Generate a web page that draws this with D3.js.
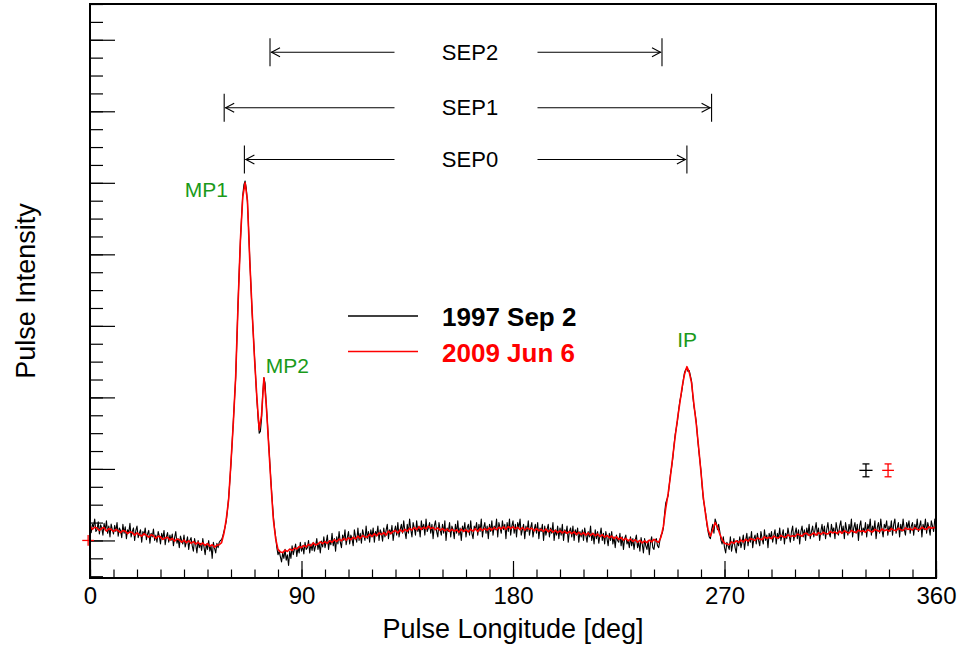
<!DOCTYPE html>
<html>
<head>
<meta charset="utf-8">
<script src="https://cdn.jsdelivr.net/npm/d3@7"></script>
<style>
  html, body { margin: 0; padding: 0; background: #fff; }
  svg { display: block; font-family: "Liberation Sans", Arial, Helvetica, sans-serif; }
</style>
</head>
<body>
<div id="chart"></div>
<script>
// Pulse profiles, intensity in units of 1/1000 of the MP1 peak
// 1997 profile: one bin per 0.5 deg, 2009 profile: one bin per 1 deg (0..360)
const step1997 = 0.5;
const step2009 = 1;

const profile1997 = [
    50,22,45,38,60,25,30,52,18,44,
    35,15,48,28,55,20,40,10,46,30,
    18,42,25,50,12,35,28,8,45,20,
    38,5,30,22,48,10,25,35,0,28,
    40,8,20,30,-5,25,15,35,2,18,
    28,-8,20,10,32,0,15,-5,25,12,
    -10,20,5,28,-12,10,22,-5,15,0,
    18,-15,8,25,-8,5,-20,12,0,-10,
    15,-18,-5,10,-25,0,8,-15,-30,5,
    -12,-35,0,-20,-8,-28,5,-18,-40,-10,
    -25,0,-30,-15,-50,-5,-22,-35,-8,-20,
    -5,0,2,12,25,38,55,85,120,165,
    215,275,335,395,455,560,665,755,835,905,
    965,995,1005,985,945,870,785,710,635,575,
    515,455,395,345,300,305,340,410,455,440,
    380,330,275,220,165,115,70,35,10,-20,
    -40,-30,-45,-60,-35,-50,-25,-55,-40,-70,
    -30,-50,-15,-40,-25,-10,-45,-20,-35,-5,
    -30,-15,-38,-5,-25,-20,0,-35,-10,-28,
    -5,-30,-15,5,-25,-8,-35,-2,-18,10,
    -20,-5,15,-25,0,-12,20,-15,5,-30,
    10,-10,25,-5,-20,15,0,30,-12,8,
    25,-10,15,5,-15,30,10,-5,35,0,
    20,-8,30,15,0,40,5,25,-5,30,
    10,35,-5,25,15,40,0,30,20,-2,
    35,10,28,45,5,30,18,42,0,25,
    40,15,50,10,30,45,20,55,25,5,
    45,20,60,30,10,50,35,15,55,25,
    40,10,55,30,45,15,60,25,35,50,
    20,45,5,40,55,25,10,50,30,15,
    45,20,55,0,35,25,50,10,40,30,
    5,45,20,55,15,35,0,40,25,50,
    10,35,45,15,55,20,5,40,30,50,
    15,45,25,60,10,35,50,20,40,5,
    45,25,55,15,40,30,60,10,50,35,
    20,55,30,45,5,50,25,60,15,40,
    55,20,45,10,50,35,60,15,30,45,
    5,40,25,55,15,35,50,10,30,45,
    20,50,5,35,25,45,0,40,15,30,
    45,10,35,20,50,0,30,15,40,5,
    35,15,45,0,30,20,40,-5,25,35,
    10,40,0,30,15,35,-5,25,10,30,
    0,35,15,-5,25,10,40,0,20,-10,
    30,5,25,-8,15,35,0,20,-10,25,
    5,-15,20,0,25,-10,10,-20,15,0,
    -5,20,-15,10,-25,5,15,-10,0,-20,
    10,-15,5,-25,0,15,-20,-5,-30,8,
    -10,-35,5,-15,-25,0,-40,-5,10,-20,
    -25,0,5,-15,-20,0,15,20,35,75,
    105,115,125,155,185,205,230,265,295,315,
    335,365,390,405,425,450,470,478,482,472,
    475,460,445,405,375,355,330,290,255,225,
    195,150,115,95,75,45,25,10,5,30,
    45,20,60,50,30,45,25,0,-10,10,
    -20,-35,-5,-15,-25,10,-30,-10,5,-20,
    -35,0,-15,10,-20,-5,15,-25,0,20,
    -15,10,-5,25,-20,5,15,-10,20,0,
    -15,25,5,-10,30,0,15,-20,20,5,
    25,-5,15,30,-10,20,5,35,0,15,
    30,-10,20,5,35,15,-5,25,40,0,
    20,35,5,30,-10,25,40,10,30,0,
    35,15,45,5,25,40,10,30,50,15,
    35,0,25,45,15,40,5,30,50,20,
    10,45,25,35,5,50,30,15,40,55,
    20,40,5,50,30,15,45,25,60,10,
    35,50,20,45,0,40,55,15,35,25,
    50,10,45,30,60,15,40,25,55,5,
    35,50,20,60,30,10,45,35,55,15,
    40,25,55,15,45,60,20,35,50,10,
    45,25,60,30,15,50,35,55,20,40,
    50,15,45,30,60,25,40,55,10,45,
    30,60,20,50,35,15,55,40,25,60,
    40
];

const profile2009 = [
    40,31,37,35,28,34,36,26,33,31,
    25,31,27,22,28,26,19,24,22,15,
    21,16,12,19,14,9,16,13,6,12,
    10,3,7,9,1,6,-2,4,2,-5,
    1,-6,-1,-8,-3,-10,-5,-12,-7,-14,
    -9,-16,-12,-19,-13,
    -12,-6,20,60,115,220,330,460,660,840,960,1000,950,780,640,510,400,310,350,455,380,270,160,60,5,-25,-32,
    -34,-27,-31,-24,-28,-21,-24,-17,
    -20,-14,-18,-11,-15,-7,-13,-10,-4,-9,
    -3,-8,-1,-5,2,-3,4,-1,6,1,
    7,2,9,4,12,6,14,9,10,17,
    11,19,13,21,16,22,15,26,19,25,
    28,21,30,24,31,26,34,29,36,30,
    38,31,37,32,40,33,36,30,35,28,
    33,27,32,25,31,26,30,23,31,25,
    30,24,31,26,33,25,34,28,33,29,
    35,29,36,30,37,32,38,31,39,33,
    38,32,37,30,36,29,35,31,34,27,
    33,27,31,25,32,24,30,23,28,22,
    27,21,26,20,25,19,24,17,23,16,
    22,15,21,14,20,13,18,11,16,9,
    14,8,12,5,10,3,8,1,6,-1,
    4,-3,2,-5,0,-7,-1,-6,1,-4,
    3,-2,
    -5,10,40,90,130,180,235,290,340,385,430,465,486,470,440,380,325,260,190,120,70,30,12,30,50,38,18,2,-8,-10,
    -12,-4,-8,-1,-6,1,-4,3,
    -2,5,3,0,7,4,2,10,6,9,
    5,12,8,7,14,10,9,16,11,13,
    11,18,15,12,19,20,14,16,21,15,
    22,17,23,19,18,25,21,24,19,26,
    20,27,23,21,28,24,22,29,25,27,
    23,30,26,24,31,28,25,32,27,30,
    26,33,29,27,34,30,28,35,31,33,
    29,36,31,30,37,33,31,38,34,36,35
];

// Typical error bars (longitude, intensity, half widths)
const errSeries = ['1997', '2009', '2009'];
const errLon = [330.2, 339.6, -0.8];
const errVal = [196, 196, 0];
const errLonHalf = [2.8, 2.5, 2.5];
const errValHalf = [18, 18, 15];

// Component separations (start / end longitude in deg)
const sepNames = ['SEP2', 'SEP1', 'SEP0'];
const sepStart = [76.6, 57.1, 65.7];
const sepEnd = [243.4, 264.5, 254.0];
const sepLevel = [1365, 1210, 1065];

// Component labels
const compNames = ['MP1', 'MP2', 'IP'];
const compLon = [49.5, 74.8, 254.1];
const compVal = [960, 468, 540];

const legendNames = ['1997 Sep 2', '2009 Jun 6'];
const legendColors = ['#000000', '#ff0000'];

const xTicks = [0, 90, 180, 270, 360];

const W = 961, H = 652;
const plot = { left: 90, right: 936, top: 4, bottom: 578 };

const svg = d3.select('#chart').append('svg')
    .attr('width', W)
    .attr('height', H);

const x = d3.scaleLinear().domain([0, 360]).range([plot.left, plot.right]);
const y = d3.scaleLinear().domain([-105, 1500]).range([plot.bottom, plot.top]);

svg.append('clipPath').attr('id', 'clip')
    .append('rect')
    .attr('x', plot.left).attr('y', plot.top)
    .attr('width', plot.right - plot.left).attr('height', plot.bottom - plot.top);

// X axis: minor and major ticks pointing inward
svg.append('g')
    .attr('transform', `translate(0,${plot.bottom})`)
    .call(d3.axisBottom(x).tickValues(d3.range(0, 361, 10)).tickSize(-8.5).tickFormat(''))
    .call(g => g.select('.domain').remove())
    .call(g => g.selectAll('line').attr('stroke', '#000').attr('stroke-width', 1.2));

svg.append('g')
    .attr('transform', `translate(0,${plot.bottom})`)
    .call(d3.axisBottom(x).tickValues(xTicks).tickSize(-17).tickPadding(9).tickFormat(d3.format('d')))
    .call(g => g.select('.domain').remove())
    .call(g => g.selectAll('line').attr('stroke', '#000').attr('stroke-width', 1.2))
    .call(g => g.selectAll('text')
        .attr('fill', '#000')
        .style('font-size', '24px')
        .style('font-family', '"Liberation Sans", Arial, sans-serif'));

// Y axis: unlabeled ticks
svg.append('g')
    .attr('transform', `translate(${plot.left},0)`)
    .call(d3.axisLeft(y).tickValues(d3.range(-100, 1501, 50)).tickSize(-13).tickFormat(''))
    .call(g => g.select('.domain').remove())
    .call(g => g.selectAll('line').attr('stroke', '#000').attr('stroke-width', 1.2));

svg.append('g')
    .attr('transform', `translate(${plot.left},0)`)
    .call(d3.axisLeft(y).tickValues(d3.range(0, 1401, 200)).tickSize(-25).tickFormat(''))
    .call(g => g.select('.domain').remove())
    .call(g => g.selectAll('line').attr('stroke', '#000').attr('stroke-width', 1.2));

// Profiles
const lineFor = step => d3.line()
    .x((d, i) => x(i * step))
    .y(d => y(d));

const traces = svg.append('g').attr('clip-path', 'url(#clip)');

traces.append('path')
    .datum(profile1997)
    .attr('fill', 'none')
    .attr('stroke', legendColors[0])
    .attr('stroke-width', 1.1)
    .attr('stroke-linejoin', 'round')
    .attr('d', lineFor(step1997));

traces.append('path')
    .datum(profile2009)
    .attr('fill', 'none')
    .attr('stroke', legendColors[1])
    .attr('stroke-width', 1.6)
    .attr('stroke-linejoin', 'round')
    .attr('d', lineFor(step2009));

// Error bars
errSeries.forEach((s, i) => {
    const c = s === '1997' ? legendColors[0] : legendColors[1];
    const g = svg.append('g').attr('stroke', c).attr('stroke-width', 1.3);
    const cx = x(errLon[i]), cy = y(errVal[i]);
    const y0 = y(errVal[i] - errValHalf[i]), y1 = y(errVal[i] + errValHalf[i]);
    g.append('line').attr('x1', x(errLon[i] - errLonHalf[i])).attr('x2', x(errLon[i] + errLonHalf[i]))
        .attr('y1', cy).attr('y2', cy);
    g.append('line').attr('x1', cx).attr('x2', cx).attr('y1', y0).attr('y2', y1);
    if (i < 2) {
        g.append('line').attr('x1', cx - 3.5).attr('x2', cx + 3.5).attr('y1', y0).attr('y2', y0);
        g.append('line').attr('x1', cx - 3.5).attr('x2', cx + 3.5).attr('y1', y1).attr('y2', y1);
    }
});

// Separation arrows
const textGap = 72;
const xc = 466.5;
sepNames.forEach((name, i) => {
    const g = svg.append('g').attr('stroke', '#000').attr('stroke-width', 1.1).attr('fill', 'none');
    const xs = x(sepStart[i]), xe = x(sepEnd[i]), yy = y(sepLevel[i]);
    g.append('line').attr('x1', xs).attr('x2', xs).attr('y1', yy - 14).attr('y2', yy + 14);
    g.append('line').attr('x1', xe).attr('x2', xe).attr('y1', yy - 14).attr('y2', yy + 14);
    g.append('line').attr('x1', xs + 1).attr('x2', xc - textGap).attr('y1', yy).attr('y2', yy);
    g.append('line').attr('x1', xc + textGap - 1).attr('x2', xe - 1).attr('y1', yy).attr('y2', yy);
    g.append('path').attr('d', `M${xs + 10},${yy - 4.5}L${xs + 1.5},${yy}L${xs + 10},${yy + 4.5}`);
    g.append('path').attr('d', `M${xe - 10},${yy - 4.5}L${xe - 1.5},${yy}L${xe - 10},${yy + 4.5}`);
    svg.append('text')
        .attr('x', 470).attr('y', yy + 7.5)
        .attr('text-anchor', 'middle')
        .style('font-size', '22px')
        .attr('fill', '#000')
        .text(name);
});

// Component labels
compNames.forEach((name, i) => {
    svg.append('text')
        .attr('x', x(compLon[i]))
        .attr('y', y(compVal[i]))
        .attr('text-anchor', i === 1 ? 'start' : 'middle')
        .attr('fill', '#1a9a1a')
        .style('font-size', '21px')
        .text(name);
});

// Legend
legendNames.forEach((name, i) => {
    const ly = 316 + i * 35.5;
    svg.append('line')
        .attr('x1', 348).attr('x2', 418)
        .attr('y1', ly).attr('y2', ly)
        .attr('stroke', legendColors[i])
        .attr('stroke-width', 1.3);
    svg.append('text')
        .attr('x', 442).attr('y', ly + 10)
        .attr('fill', legendColors[i])
        .style('font-size', '26px')
        .style('font-weight', 'bold')
        .text(name);
});

// Frame
svg.append('rect')
    .attr('x', plot.left).attr('y', plot.top)
    .attr('width', plot.right - plot.left).attr('height', plot.bottom - plot.top)
    .attr('fill', 'none')
    .attr('stroke', '#000')
    .attr('stroke-width', 2);

// Axis titles
svg.append('text')
    .attr('x', (plot.left + plot.right) / 2)
    .attr('y', 638)
    .attr('text-anchor', 'middle')
    .style('font-size', '27px')
    .text('Pulse Longitude [deg]');

svg.append('text')
    .attr('transform', `translate(35,${(plot.top + plot.bottom) / 2}) rotate(-90)`)
    .attr('text-anchor', 'middle')
    .style('font-size', '27px')
    .text('Pulse Intensity');
</script>
</body>
</html>
